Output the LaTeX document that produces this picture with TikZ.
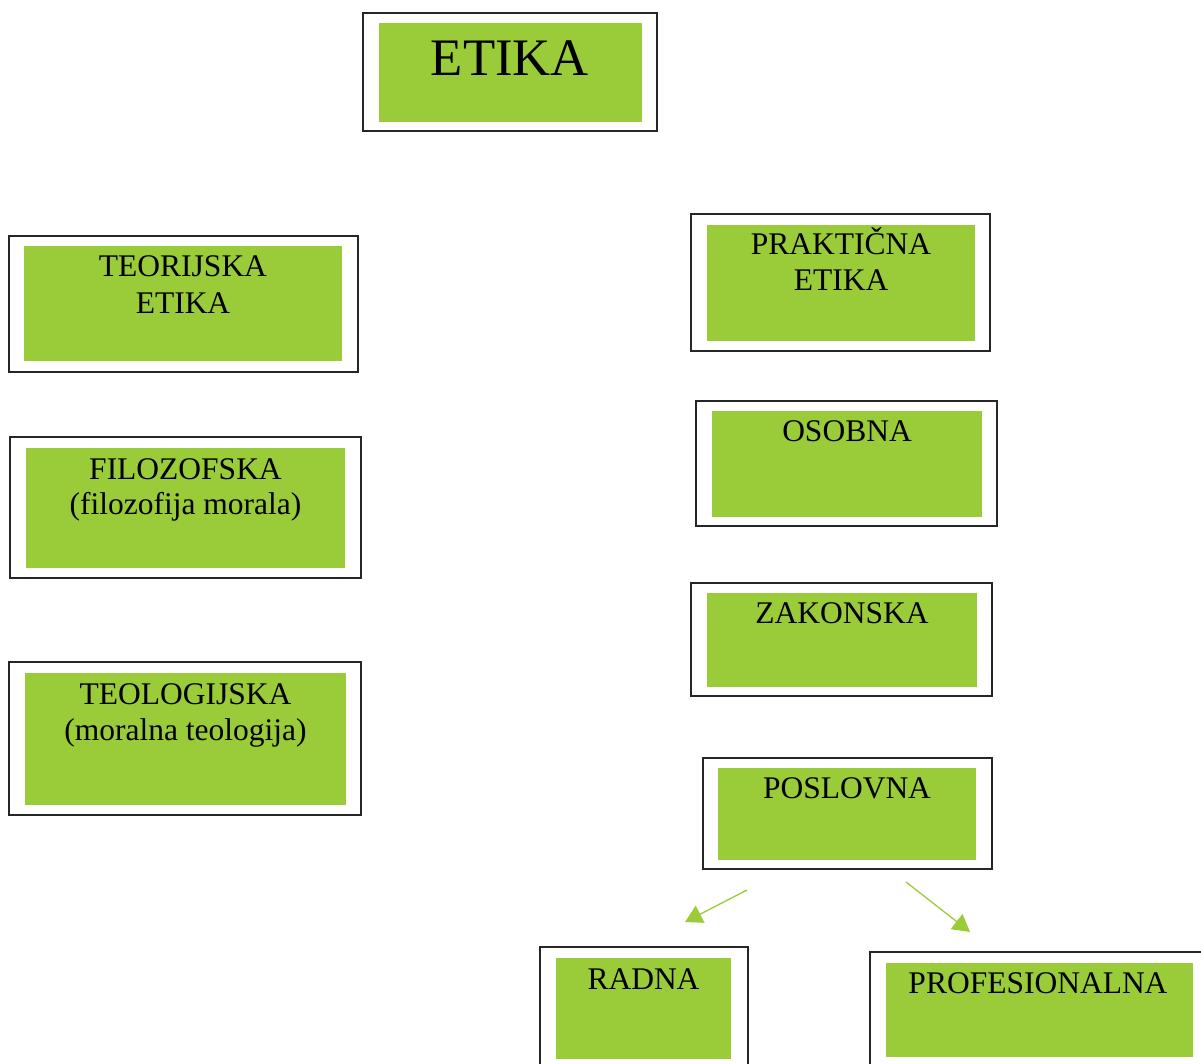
\documentclass[tikz,border=0pt]{standalone}
\usepackage{fontspec}
\setmainfont{Liberation Serif}
\usetikzlibrary{arrows.meta}
\definecolor{leaf}{RGB}{154,203,57}
\tikzset{
  frame/.style={draw=black!85, line width=1.2pt, fill=white, inner sep=0pt},
  fillbox/.style={fill=leaf, draw=none, inner sep=0pt},
  lbl/.style={anchor=base, inner sep=0pt, font=\fontsize{31.5}{36}\selectfont},
  biglbl/.style={anchor=base, inner sep=0pt, font=\fontsize{52.7}{60}\selectfont},
  arr/.style={draw=leaf, line width=1.3pt, -{Triangle[length=17pt,width=19pt]}}
}
\newcommand\ebox[9]{%
  \node[frame, minimum width={#4-#2}, minimum height={#5-#3}] (#1o) at ({(#2+#4)/2},{(#3+#5)/2}) {};
  \node[fillbox, minimum width={#8-#6}, minimum height={#9-#7}] (#1) at ({(#6+#8)/2},{(#7+#9)/2}) {};}
\begin{document}
\begin{tikzpicture}[x=1pt,y=-1pt]
\useasboundingbox (0,0) rectangle (1201,1064);
\clip (0,0) rectangle (1201,1064);
\fill[white] (0,0) rectangle (1201,1064);
\ebox{etika}{363}{13}{657}{131}{379}{23}{642}{122}
\ebox{teor}{9}{236}{358}{372}{24}{246}{342}{361}
\ebox{filo}{10}{437}{361}{578}{26}{448}{345}{568}
\ebox{teol}{9}{662}{361}{815}{25}{673}{346}{805}
\ebox{prak}{691}{214}{990}{351}{707}{225}{975}{341}
\ebox{osob}{696}{401}{997}{526}{712}{411}{982}{517}
\ebox{zak}{691}{583}{992}{696}{707}{593}{977}{687}
\ebox{posl}{703}{758}{992}{869}{718}{768}{976}{860}
\ebox{radna}{540}{947}{748}{1080}{556}{958}{731}{1059}
\ebox{prof}{870}{952}{1215}{1080}{886}{963}{1193}{1057}

\node[biglbl] (tEtika) at (510,76) {ETIKA};
\node[lbl] (tTeor1) at (183,277) {TEORIJSKA};
\node[lbl] (tTeor2) at (183,313) {ETIKA};
\node[lbl] (tFilo1) at (185.5,479) {FILOZOFSKA};
\node[lbl] (tFilo2) at (185.5,514) {(filozofija morala)};
\node[lbl] (tTeol1) at (185.5,704) {TEOLOGIJSKA};
\node[lbl] (tTeol2) at (185.5,740) {(moralna teologija)};
\node[lbl] (tPrak1) at (841,255) {PRAKTIČNA};
\node[lbl] (tPrak2) at (841,291) {ETIKA};
\node[lbl] (tOsob) at (847,441) {OSOBNA};
\node[lbl] (tZak) at (842,623) {ZAKONSKA};
\node[lbl] (tPosl) at (847,798) {POSLOVNA};
\node[lbl] (tRadna) at (643.5,989) {RADNA};
\node[lbl] (tProf) at (1038,993) {PROFESIONALNA};

\coordinate (a1s) at (747,890);
\coordinate (a1e) at (685,922);
\coordinate (a2s) at (906,882);
\coordinate (a2e) at (970,932);
\draw[arr] (a1s) -- (a1e);
\draw[arr] (a2s) -- (a2e);
\end{tikzpicture}
\end{document}
